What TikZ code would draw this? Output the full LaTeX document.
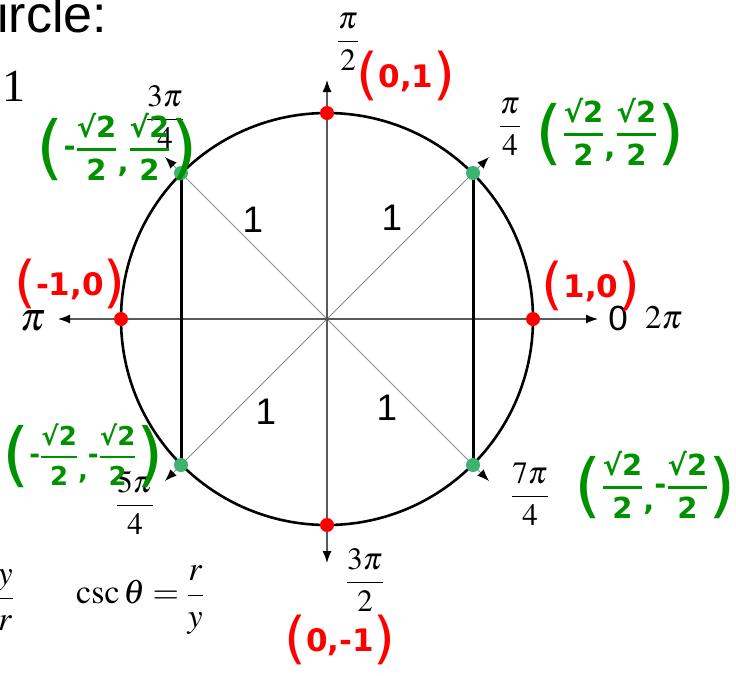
\documentclass[tikz,border=0pt]{standalone}
\usepackage{amsmath}
\usepackage{mathptmx}
\usepackage{fontspec}
\setmainfont{Liberation Serif}
\setsansfont{Liberation Sans}
\newfontfamily\penfont{DejaVu Sans}
\usetikzlibrary{positioning, arrows.meta}

\definecolor{penred}{RGB}{255,0,0}
\definecolor{pengreen}{RGB}{0,145,0}
\definecolor{dotgreen}{RGB}{60,179,113}

% hand written pairs
\newcommand{\redparen}[1]{\raisebox{-6pt}{\mdseries\fontsize{56}{56}\selectfont#1}}
\newcommand{\greenparen}[1]{\raisebox{-15pt}{\mdseries\fontsize{70}{70}\selectfont#1}}
\newcommand{\pair}[1]{\redparen{(}#1\redparen{)}}
\newcommand{\half}{$\genfrac{}{}{2.6pt}{0}{\text{√2}}{\text{2}}$}
\newcommand{\rootpair}[2]{\greenparen{(}#1\half\raisebox{-16pt}{,}#2\half\greenparen{)}}

\tikzset{
	axis/.style={draw=black!65, line width=1.3pt},
	diag/.style={draw=black!45, line width=1pt},
	rim/.style={draw=black, line width=2.6pt},
	chord/.style={draw=black, line width=3pt},
	reddot/.style={circle, fill=penred, inner sep=0pt, minimum size=14pt},
	greendot/.style={circle, fill=dotgreen, inner sep=0pt, minimum size=14pt},
	anglefrac/.style={inner sep=0pt, font=\fontsize{31}{36}\selectfont},
	sidelen/.style={inner sep=0pt, font=\sffamily\fontsize{37}{40}\selectfont},
	redpen/.style={inner sep=0pt, text=penred, font=\penfont\bfseries\fontsize{31}{34}\selectfont},
	greenpen/.style={inner sep=0pt, text=pengreen, font=\penfont\bfseries\fontsize{29}{32}\selectfont},
}

\begin{document}
\begin{tikzpicture}[x=1pt, y=-1pt, >={Latex[length=12pt, width=9pt, color=black]}]
	\useasboundingbox (0,0) rectangle (736,675);

	% centre, axis ends and diagonal ends
	\coordinate (O) at (327,319);
	\coordinate (E) at (598,319);
	\coordinate (W) at (58,319);
	\coordinate (N) at (327,80);
	\coordinate (S) at (327,563);
	\coordinate (NE) at (489,157);
	\coordinate (NW) at (165,157);
	\coordinate (SW) at (165,481);
	\coordinate (SE) at (489,481);

	% points on the circle
	\coordinate (a0) at (533,319);
	\coordinate (a2) at (327,113);
	\coordinate (a4) at (121,319);
	\coordinate (a6) at (327,525);
	\coordinate (a1) at (473,173);
	\coordinate (a3) at (181,173);
	\coordinate (a5) at (181,465);
	\coordinate (a7) at (473,465);

	\draw[diag, ->] (O) -- (NE);
	\draw[diag, ->] (O) -- (NW);
	\draw[diag, ->] (O) -- (SW);
	\draw[diag, ->] (O) -- (SE);
	\draw[axis, ->] (O) -- (E);
	\draw[axis, ->] (O) -- (W);
	\draw[axis, ->] (O) -- (N);
	\draw[axis, ->] (O) -- (S);

	\draw[rim] (O) circle[radius=206];
	\draw[chord] (a3) -- (a5);
	\draw[chord] (a1) -- (a7);

	\node[reddot] (d0) at (a0) {};
	\node[reddot] (d2) at (a2) {};
	\node[reddot] (d4) at (a4) {};
	\node[reddot] (d6) at (a6) {};
	\node[greendot] (d1) at (a1) {};
	\node[greendot] (d3) at (a3) {};
	\node[greendot] (d5) at (a5) {};
	\node[greendot] (d7) at (a7) {};

	% angles
	\node[anglefrac] (t2) at (348,42) {$\dfrac{\pi}{2}$};
	\node[anglefrac] (t3) at (165,117) {$\dfrac{3\pi}{4}$};
	\node[anglefrac] (t1) at (510,127) {$\dfrac{\pi}{4}$};
	\node[anglefrac] (t5) at (135,503) {$\dfrac{5\pi}{4}$};
	\node[anglefrac] (t7) at (530,494) {$\dfrac{7\pi}{4}$};
	\node[anglefrac] (t6) at (365,580) {$\dfrac{3\pi}{2}$};
	\node[anglefrac, font=\fontsize{40}{44}\selectfont] (t4) at (33,321) {$\pi$};
	\node[sidelen, font=\sffamily\fontsize{35}{38}\selectfont] (t0) at (618,318) {0};
	\node[anglefrac, font=\fontsize{33}{36}\selectfont, right=17pt of t0] (t8) {$2\pi$};

	% radius lengths
	\node[sidelen] (r1) at (392,218) {1};
	\node[sidelen] (r3) at (253,220) {1};
	\node[sidelen] (r5) at (266,412) {1};
	\node[sidelen] (r7) at (387,408) {1};

	% hand written coordinates
	\node[redpen] (p0) at (591,286) {\pair{1,0}};
	\node[redpen] (p2) at (406,76) {\pair{0,1}};
	\node[redpen] (p4) at (70,284) {\pair{-1,0}};
	\node[redpen] (p6) at (340,640) {\pair{0,-1}};
	\node[greenpen] (p1) at (610,132) {\rootpair{}{}};
	\node[greenpen] (p3) at (117,147) {\rootpair{-}{}};
	\node[greenpen, font=\penfont\bfseries\fontsize{26}{30}\selectfont] (p5) at (83,456) {\rootpair{-}{-}};
	\node[greenpen] (p7) at (655,485) {\rootpair{}{-}};

	% cut off slide text
	\node[inner sep=0pt, anchor=base west, font=\sffamily\fontsize{52}{56}\selectfont] (title) at (-3,32) {ircle:};
	\node[inner sep=0pt, font=\fontsize{46}{50}\selectfont] (one) at (14,86) {1};
	\node[inner sep=0pt, anchor=east, font=\fontsize{34}{38}\selectfont] (sinfrac) at (14,600) {$\dfrac{y}{r}$};
	\node[inner sep=0pt, anchor=west, font=\fontsize{34}{38}\selectfont] (csc) at (76,600) {$\csc\theta=\dfrac{r}{y}$};
\end{tikzpicture}
\end{document}
